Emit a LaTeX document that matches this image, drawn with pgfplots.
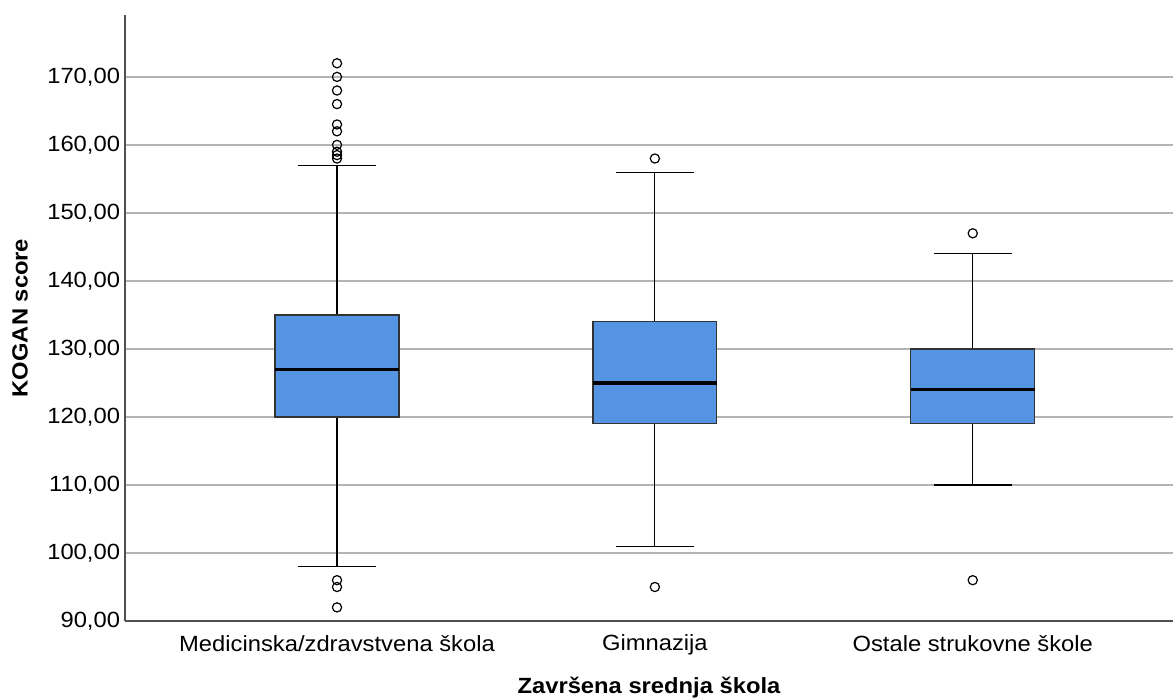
\documentclass[border=0pt]{standalone}
\usepackage{fontspec}
\setmainfont{Liberation Sans}[FakeStretch=1.08]
\usepackage{pgfplots}
\pgfplotsset{compat=1.18}
\definecolor{boxblue}{RGB}{85,148,227}
\definecolor{gridgray}{RGB}{180,180,180}
\definecolor{axisgray}{RGB}{80,80,80}
\begin{document}
\fontsize{11pt}{13pt}\selectfont
\begin{tikzpicture}
\begin{axis}[
  scale only axis,
  width=524pt, height=303pt,
  xmin=-0.667, xmax=2.63,
  ymin=90, ymax=179.1,
  axis x line=bottom, axis y line=left,
  axis line style={-, axisgray, line width=0.75pt},
  xtick={0,1,2},
  xticklabels={Medicinska/zdravstvena škola, Gimnazija, Ostale strukovne škole},
  ytick={90,100,...,170},
  yticklabels={{90,00},{100,00},{110,00},{120,00},{130,00},{140,00},{150,00},{160,00},{170,00}},
  tick style={draw=none},
  ymajorgrids,
  major grid style={gridgray, line width=0.75pt},
  ticklabel style={font=\fontsize{11pt}{13pt}\selectfont},
  yticklabel style={xshift=3.5pt},
  xticklabel style={yshift=-1pt},
  every axis y label/.style={at={(axis description cs:-0.1002,0.5)}, rotate=90, anchor=center},
  every axis x label/.style={at={(axis description cs:0.5,-0.1106)}, anchor=center},
  ylabel={\bfseries KOGAN score},
  xlabel={\bfseries Završena srednja škola},
  clip=false,
]
% whiskers (vertical stems)
\addplot[black, line width=0.6pt] coordinates {(0,98) (0,120)};
\addplot[black, line width=0.6pt] coordinates {(0,135) (0,157)};
\addplot[black, line width=0.6pt] coordinates {(1,101) (1,119)};
\addplot[black, line width=0.6pt] coordinates {(1,134) (1,156)};
\addplot[black, line width=0.6pt] coordinates {(2,110) (2,119)};
\addplot[black, line width=0.6pt] coordinates {(2,130) (2,144)};
% whisker caps
\addplot[black, line width=0.6pt] coordinates {(-0.1225,98) (0.1225,98)};
\addplot[black, line width=0.6pt] coordinates {(-0.1225,157) (0.1225,157)};
\addplot[black, line width=0.6pt] coordinates {(0.8775,101) (1.1225,101)};
\addplot[black, line width=0.6pt] coordinates {(0.8775,156) (1.1225,156)};
\addplot[black, line width=0.6pt] coordinates {(1.8775,110) (2.1225,110)};
\addplot[black, line width=0.6pt] coordinates {(1.8775,144) (2.1225,144)};
% boxes (Q1 to Q3)
\addplot[draw=black!80, fill=boxblue, line width=0.6pt] coordinates {(-0.195,120) (0.195,120) (0.195,135) (-0.195,135)} -- cycle;
\addplot[draw=black!80, fill=boxblue, line width=0.6pt] coordinates {(0.805,119) (1.195,119) (1.195,134) (0.805,134)} -- cycle;
\addplot[draw=black!80, fill=boxblue, line width=0.6pt] coordinates {(1.805,119) (2.195,119) (2.195,130) (1.805,130)} -- cycle;
% medians
\addplot[black, line width=1.6pt] coordinates {(-0.195,127) (0.195,127)};
\addplot[black, line width=1.6pt] coordinates {(0.805,125) (1.195,125)};
\addplot[black, line width=1.6pt] coordinates {(1.805,124) (2.195,124)};
% outliers
\addplot[only marks, mark=o, mark size=2.3pt, mark options={black, fill=white, line width=0.6pt}] coordinates {
  (0,172) (0,170) (0,168) (0,166) (0,163) (0,162) (0,160) (0,159) (0,158.5) (0,158) (0,96) (0,95) (0,92)
  (1,158) (1,95)
  (2,147) (2,96)};
\end{axis}
\pgfresetboundingbox
\path (-62.5pt,-38pt) rectangle (524pt,310.5pt);
\end{tikzpicture}
\end{document}
